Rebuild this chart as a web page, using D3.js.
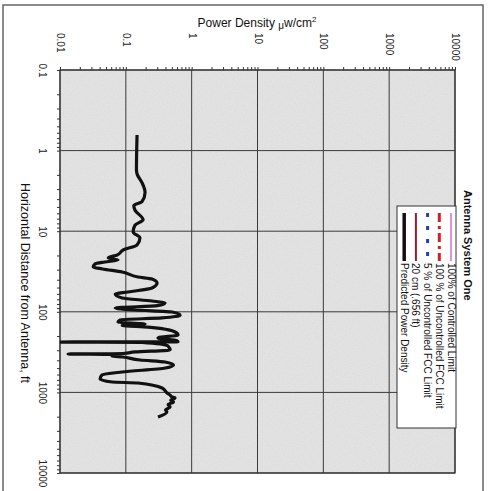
<!DOCTYPE html>
<html>
<head>
<meta charset="utf-8">
<script src="https://cdn.jsdelivr.net/npm/d3@7"></script>
<style>
  body { margin: 0; background: #fff; }
  svg { display: block; font-family: "Liberation Sans", Arial, sans-serif; }
</style>
</head>
<body>
<svg id="chart" width="489" height="491"></svg>
<script>
// values (distance in ft, power density in uW/cm2)
const distanceFt = [0.64, 1.74, 2.0, 2.5, 3.3, 4.3, 4.8, 5.5, 7.2, 8.4, 10.2, 12.1, 14.8, 17.1, 19.7,
  21.5, 22.8, 24.1, 25.5, 27.8, 29.4, 32.1, 37.0, 39.2, 43.9, 50.7, 56.8, 60.1, 67.4, 73.5, 77.8,
  84, 89.7, 95, 100.5, 110, 119, 126, 134, 142, 148, 155, 178, 194, 211, 229, 236, 237, 240, 266,
  298, 315, 329, 334, 338, 352, 364, 396, 420, 457, 498, 558, 608, 682, 743, 764, 882, 1017, 1080,
  1140, 1172, 1250, 1315, 1420, 1517, 1650, 1750, 2018];
const powerDensity = [0.148, 0.145, 0.150, 0.176, 0.196, 0.176, 0.132, 0.138, 0.183, 0.138, 0.129,
  0.164, 0.148, 0.091, 0.074, 0.054, 0.076, 0.048, 0.034, 0.032, 0.044, 0.088, 0.153, 0.25, 0.298,
  0.25, 0.108, 0.069, 0.088, 0.25, 0.394, 0.30, 0.069, 0.138, 0.504, 0.667, 0.355, 0.082, 0.076,
  0.196, 0.088, 0.217, 0.56, 0.621, 0.308, 0.6, 0.62, 0.008, 0.176, 0.438, 0.47, 0.138, 0.09,
  0.0133, 0.06, 0.062, 0.09, 0.164, 0.394, 0.53, 0.40, 0.0875, 0.0435, 0.0406, 0.062, 0.153, 0.355,
  0.423, 0.47, 0.504, 0.56, 0.48, 0.53, 0.44, 0.47, 0.40, 0.42, 0.308];

const densityTicks = [0.01, 0.1, 1, 10, 100, 1000, 10000];
const densityLabels = ['0.01', '0.1', '1', '10', '100', '1000', '10000'];
const distanceTicks = [0.1, 1, 10, 100, 1000, 10000];
const distanceLabels = ['0.1', '1', '10', '100', '1000', '10000'];

const legendTitle = 'Antenna System One';
const legendLabels = ['100% of Controlled Limit', '100 % of Uncontrolled FCC Limit',
  '5 % of Uncontrolled FCC Limit', '20 cm (.656 ft)', 'Predicted Power Density'];
const legendStyles = [
  { color: '#d86ad0', width: 1.5, dash: null },
  { color: '#d0202a', width: 3, dash: '9,4,3,4' },
  { color: '#2040b0', width: 3, dash: '4,9' },
  { color: '#8a2030', width: 2, dash: null },
  { color: '#111', width: 3.5, dash: null }
];

const svg = d3.select('#chart');
const plot = { left: 60, right: 455, top: 70, bottom: 473 };

const x = d3.scaleLog().domain([0.01, 10000]).range([plot.left, plot.right]);
const y = d3.scaleLog().domain([0.1, 10000]).range([plot.top, plot.bottom]);

const isDecade = (d) => Math.abs(Math.log10(d) - Math.round(Math.log10(d))) < 1e-9;

// outer frame of the scanned page
svg.append('rect')
  .attr('x', 3).attr('y', 5).attr('width', 480).attr('height', 500)
  .attr('fill', '#fff').attr('stroke', '#666').attr('stroke-width', 1.5);

// grainy grey plot background
const defs = svg.append('defs');
const f = defs.append('filter').attr('id', 'grain');
f.append('feTurbulence').attr('type', 'fractalNoise').attr('baseFrequency', 0.9).attr('numOctaves', 2).attr('seed', 3);
f.append('feColorMatrix').attr('values', '0 0 0 0 0.45  0 0 0 0 0.45  0 0 0 0 0.45  0 0 0 0.35 0');
f.append('feComposite').attr('in2', 'SourceGraphic').attr('operator', 'in');
defs.append('clipPath').attr('id', 'plot-clip')
  .append('rect')
  .attr('x', plot.left).attr('y', plot.top)
  .attr('width', plot.right - plot.left).attr('height', plot.bottom - plot.top);

svg.append('rect')
  .attr('x', plot.left).attr('y', plot.top)
  .attr('width', plot.right - plot.left).attr('height', plot.bottom - plot.top)
  .attr('fill', '#e6e6e6');
svg.append('rect')
  .attr('x', plot.left).attr('y', plot.top)
  .attr('width', plot.right - plot.left).attr('height', plot.bottom - plot.top)
  .attr('fill', '#e6e6e6').attr('filter', 'url(#grain)').attr('opacity', 0.6);

// major grid lines
const grid = svg.append('g').attr('stroke', '#3a3a3a').attr('stroke-width', 1);
grid.selectAll('.vx').data(densityTicks).enter().append('line')
  .attr('x1', (d) => x(d)).attr('x2', (d) => x(d))
  .attr('y1', plot.top).attr('y2', plot.bottom);
grid.selectAll('.hy').data(distanceTicks).enter().append('line')
  .attr('x1', plot.left).attr('x2', plot.right)
  .attr('y1', (d) => y(d)).attr('y2', (d) => y(d));

svg.append('rect')
  .attr('x', plot.left).attr('y', plot.top)
  .attr('width', plot.right - plot.left).attr('height', plot.bottom - plot.top)
  .attr('fill', 'none').attr('stroke', '#333').attr('stroke-width', 1.2);

// top axis (power density)
const xAxis = svg.append('g')
  .attr('transform', `translate(0,${plot.top})`)
  .call(d3.axisTop(x).tickSize(3).tickSizeOuter(0)
    .tickFormat((d) => (isDecade(d) ? densityLabels[densityTicks.findIndex((t) => Math.abs(t - d) < d * 1e-6)] : '')));
xAxis.select('.domain').remove();
xAxis.selectAll('line').attr('stroke', '#333');
xAxis.selectAll('text')
  .attr('transform', 'rotate(90)')
  .attr('x', -37).attr('y', 0).attr('dy', '0.35em')
  .attr('text-anchor', 'start')
  .attr('font-size', 10).attr('fill', '#222');

// left axis (distance)
const yAxis = svg.append('g')
  .attr('transform', `translate(${plot.left},0)`)
  .call(d3.axisLeft(y).tickSize(3).tickSizeOuter(0)
    .tickFormat((d) => (isDecade(d) ? distanceLabels[distanceTicks.findIndex((t) => Math.abs(t - d) < d * 1e-6)] : '')));
yAxis.select('.domain').remove();
yAxis.selectAll('line').attr('stroke', '#333');
yAxis.selectAll('text')
  .attr('transform', 'rotate(90)')
  .attr('x', 0).attr('y', 18).attr('dy', '0.35em')
  .attr('text-anchor', 'middle')
  .attr('font-size', 10).attr('fill', '#222');

// axis titles
const xt = svg.append('text')
  .attr('x', 257).attr('y', 27)
  .attr('text-anchor', 'middle')
  .attr('font-size', 12).attr('fill', '#111');
xt.append('tspan').text('Power Density ');
xt.append('tspan').attr('font-size', 10).attr('dy', 2).text('μ');
xt.append('tspan').attr('dy', -2).text('w/cm');
xt.append('tspan').attr('font-size', 8).attr('dy', -5).text('2');

svg.append('text')
  .attr('transform', 'translate(25,283) rotate(90)')
  .attr('text-anchor', 'middle').attr('dy', '0.35em')
  .attr('font-size', 12.5).attr('fill', '#111')
  .text('Horizontal Distance from Antenna, ft');

// predicted power density curve
const points = distanceFt.map((d, i) => ({ dist: d, pd: powerDensity[i] }));
const line = d3.line()
  .x((d) => x(d.pd))
  .y((d) => y(d.dist))
  .curve(d3.curveMonotoneY);

svg.append('path')
  .datum(points)
  .attr('clip-path', 'url(#plot-clip)')
  .attr('fill', 'none')
  .attr('stroke', '#111')
  .attr('stroke-width', 3.2)
  .attr('stroke-linejoin', 'round')
  .attr('d', line);

// legend title
svg.append('text')
  .attr('transform', 'translate(468,190) rotate(90)')
  .attr('dy', '0.35em')
  .attr('font-size', 11).attr('font-weight', 'bold').attr('fill', '#111')
  .text(legendTitle);

// legend box
const legend = svg.append('g');
legend.append('rect')
  .attr('x', 397).attr('y', 206).attr('width', 59).attr('height', 222)
  .attr('fill', '#fff').attr('stroke', '#333').attr('stroke-width', 1);

const items = legend.selectAll('.item').data(legendLabels).enter().append('g')
  .attr('transform', (d, i) => `translate(${451 - i * 11.7},0)`);
items.append('line')
  .attr('x1', 0).attr('x2', 0).attr('y1', 213).attr('y2', 261)
  .attr('stroke', (d, i) => legendStyles[i].color)
  .attr('stroke-width', (d, i) => legendStyles[i].width)
  .attr('stroke-dasharray', (d, i) => legendStyles[i].dash);
items.append('text')
  .attr('transform', 'translate(0,263) rotate(90)')
  .attr('dy', '0.35em')
  .attr('font-size', 10).attr('fill', '#111')
  .text((d) => d);
</script>
</body>
</html>
